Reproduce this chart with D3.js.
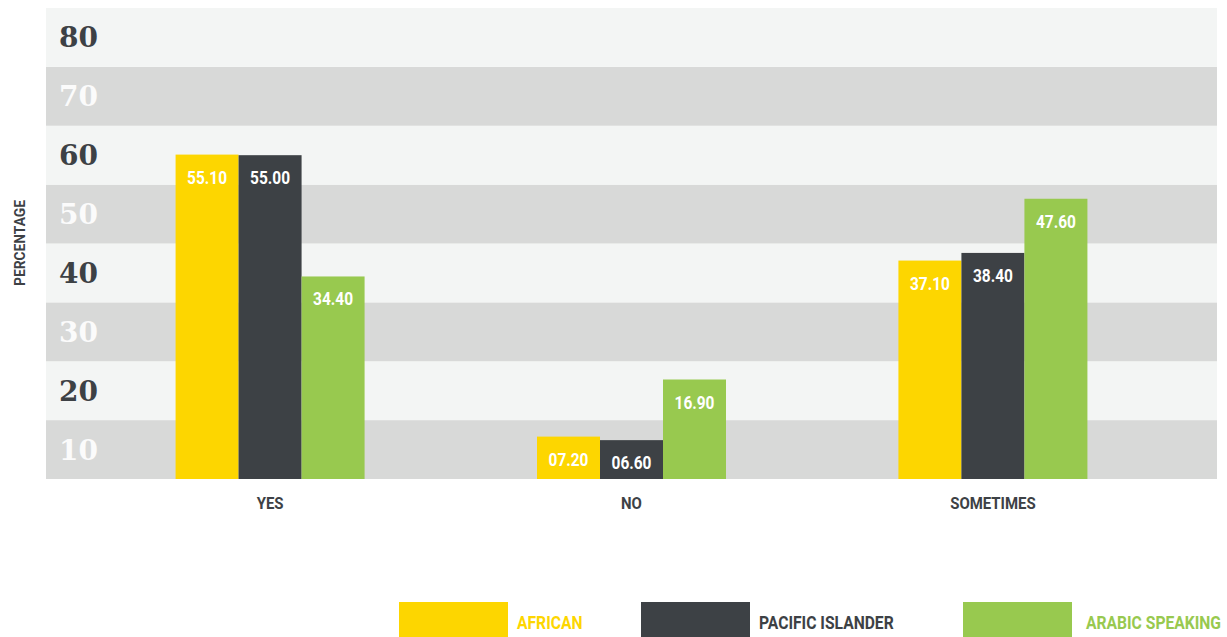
<!DOCTYPE html>
<html>
<head>
<meta charset="utf-8">
<script src="https://cdn.jsdelivr.net/npm/d3@7"></script>
<style>
  body { margin: 0; background: #fff; }
  svg text { font-family: "Roboto", "Liberation Sans", sans-serif; font-weight: bold; }
</style>
</head>
<body>
<svg id="chart"></svg>
<script>
const categories = ["YES", "NO", "SOMETIMES"];
const seriesNames = ["AFRICAN", "PACIFIC ISLANDER", "ARABIC SPEAKING"];
const african = [55.10, 7.20, 37.10];
const pacific = [55.00, 6.60, 38.40];
const arabic = [34.40, 16.90, 47.60];
const valueLabels = [["55.10", "07.20", "37.10"], ["55.00", "06.60", "38.40"], ["34.40", "16.90", "47.60"]];
const tickValues = [10, 20, 30, 40, 50, 60, 70, 80];

const colors = ["#fdd600", "#3d4145", "#98c94f"];
const series = [african, pacific, arabic];

const width = 1227, height = 637;
const plotLeft = 46, plotRight = 1217, plotTop = 8, plotBottom = 479;
const BAR_W = 63;

const svg = d3.select("#chart").attr("width", width).attr("height", height);

const y = d3.scaleLinear().domain([0, 80]).range([plotBottom, plotTop]);
const x = d3.scalePoint().domain(categories).range([plotLeft, plotRight]).padding(0.62);

// narrow look of the original font: squeeze text horizontally
const squeeze = (fx, fy, sx) => (d, i) => `translate(${fx(d, i)},${fy(d, i)}) scale(${sx},1)`;

// alternating bands
svg.append("g").selectAll("rect")
    .data(tickValues)
    .enter().append("rect")
    .attr("x", plotLeft)
    .attr("width", plotRight - plotLeft)
    .attr("y", d => y(d))
    .attr("height", d => y(d - 10) - y(d))
    .attr("fill", (d, i) => i % 2 === 0 ? "#d8d9d8" : "#f3f5f4");

svg.append("g").selectAll("text")
    .data(tickValues)
    .enter().append("text")
    .attr("x", 59)
    .attr("y", d => (y(d) + y(d - 10)) / 2 + 10)
    .style("font-family", "'DejaVu Serif', serif")
    .style("font-size", "28px")
    .attr("fill", (d, i) => i % 2 === 0 ? "#fbfbfb" : "#3d4145")
    .text(d => d);

// bars
series.forEach((vals, s) => {
    const g = svg.append("g");
    g.selectAll("rect")
        .data(vals)
        .enter().append("rect")
        .attr("x", (d, i) => x(categories[i]) - 1.5 * BAR_W + s * BAR_W)
        .attr("y", d => y(d))
        .attr("width", BAR_W)
        .attr("height", d => plotBottom - y(d))
        .attr("fill", colors[s]);
    g.selectAll("text")
        .data(vals)
        .enter().append("text")
        .attr("transform", squeeze((d, i) => x(categories[i]) - BAR_W + s * BAR_W, d => y(d) + 29, 0.86))
        .attr("text-anchor", "middle")
        .attr("fill", "#fff")
        .style("font-size", "18px")
        .text((d, i) => valueLabels[s][i]);
});

// category labels
svg.append("g").selectAll("text")
    .data(categories)
    .enter().append("text")
    .attr("transform", squeeze(d => x(d), () => 509, 0.88))
    .attr("text-anchor", "middle")
    .attr("fill", "#3d4145")
    .style("font-size", "17px")
    .text(d => d);

// y axis title
svg.append("text")
    .attr("transform", "translate(25,243) rotate(-90) scale(0.92,1)")
    .attr("text-anchor", "middle")
    .attr("fill", "#3d4145")
    .style("font-size", "15px")
    .text("PERCENTAGE");

// legend
const legendX = [399, 641, 963];
const legend = svg.append("g").selectAll("g")
    .data(seriesNames)
    .enter().append("g")
    .attr("transform", (d, i) => `translate(${legendX[i]},602)`);
legend.append("rect")
    .attr("width", 109)
    .attr("height", 35)
    .attr("fill", (d, i) => colors[i]);
legend.append("text")
    .attr("transform", (d, i) => `translate(${i === 2 ? 123 : 118},27) scale(0.87,1)`)
    .attr("fill", (d, i) => colors[i])
    .style("font-size", "18px")
    .text(d => d);
</script>
</body>
</html>
